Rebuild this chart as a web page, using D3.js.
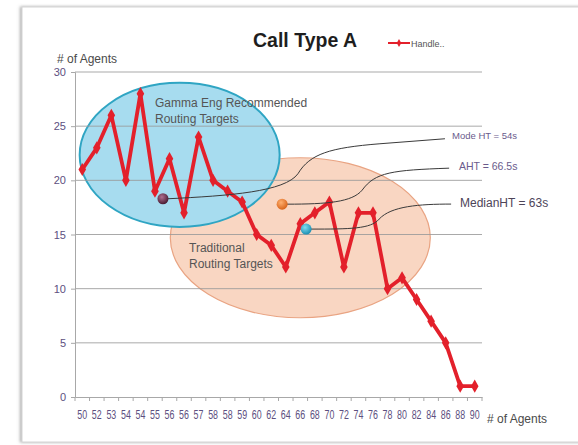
<!DOCTYPE html>
<html>
<head>
<meta charset="utf-8">
<script src="https://cdn.jsdelivr.net/npm/d3@7"></script>
<style>
  html, body { margin: 0; padding: 0; background: #fff; }
  svg { display: block; }
</style>
</head>
<body>
<div id="chart"></div>
<script>
// Call Type A — agents vs handle time, with annotated routing target zones
const categories = ['50', '52', '53', '54', '54', '55', '56', '56', '57', '58', '58', '59', '60', '62',
  '64', '66', '68', '70', '72', '74', '76', '78', '80', '82', '84', '86', '88', '90'];
const handleValues = [21, 23, 26, 20, 28, 19, 22, 17, 24, 20, 19, 18, 15, 14,
  12, 16, 17, 18, 12, 17, 17, 10, 11, 9, 7, 5, 1, 1];
const yTicks = [0, 5, 10, 15, 20, 25, 30];

// stat markers: position in category index / y value
const statNames = ['Mode HT = 54s', 'AHT = 66.5s', 'MedianHT = 63s'];
const statIndex = [5.55, 13.75, 15.4];
const statValue = [18.3, 17.8, 15.5];

const W = 578, H = 445;
const plot = { left: 75, right: 482, top: 72, bottom: 397 };
const sans = '"Liberation Sans", Arial, sans-serif';

const svg = d3.select('#chart').append('svg')
  .attr('width', W).attr('height', H);

const defs = svg.append('defs');
defs.append('filter').attr('id', 'shadow')
  .attr('x', '-5%').attr('y', '-5%').attr('width', '110%').attr('height', '110%')
  .append('feDropShadow')
  .attr('dx', -1.5).attr('dy', 0).attr('stdDeviation', 1.5)
  .attr('flood-color', '#777').attr('flood-opacity', 0.6);

defs.append('marker').attr('id', 'chev')
  .attr('viewBox', '0 0 10 10').attr('refX', 1).attr('refY', 5)
  .attr('markerWidth', 6).attr('markerHeight', 6).attr('orient', 'auto-start-reverse')
  .append('path').attr('d', 'M9,1 L1,5 L9,9')
  .attr('fill', 'none').attr('stroke', '#333').attr('stroke-width', 1.4);

const ballColors = [['#b07090', '#4a1c33'], ['#ffb070', '#d8641a'], ['#7fdcf0', '#1b8fb3']];
ballColors.forEach((c, i) => {
  const g = defs.append('radialGradient').attr('id', 'ball' + i)
    .attr('cx', '40%').attr('cy', '35%').attr('r', '65%');
  g.append('stop').attr('offset', '0%').attr('stop-color', c[0]);
  g.append('stop').attr('offset', '100%').attr('stop-color', c[1]);
});

// card frame
svg.append('rect')
  .attr('x', 22).attr('y', 7).attr('width', 620).attr('height', 435)
  .attr('fill', '#fff').attr('stroke', '#d4d4d4').attr('stroke-width', 1)
  .attr('filter', 'url(#shadow)');

const x = d3.scaleBand().domain(d3.range(categories.length)).range([plot.left, plot.right]);
const y = d3.scaleLinear().domain([0, 30]).range([plot.bottom, plot.top]);
const cx = i => x(0) + x.bandwidth() * (i + 0.5);

// zone ellipses
svg.append('ellipse')
  .attr('cx', cx(15.0)).attr('cy', y(14.7)).attr('rx', 130).attr('ry', 80)
  .attr('fill', '#f9d6c2').attr('stroke', '#e9a483').attr('stroke-width', 1.2);
svg.append('ellipse')
  .attr('cx', cx(6.7)).attr('cy', y(22.35)).attr('rx', 100).attr('ry', 72)
  .attr('fill', '#a7dcef').attr('stroke', '#2fa5c3').attr('stroke-width', 2);

// gridlines (visible through the zones)
svg.append('g')
  .selectAll('line')
  .data(yTicks.slice(1))
  .join('line')
  .attr('x1', plot.left).attr('x2', plot.right)
  .attr('y1', d => y(d)).attr('y2', d => y(d))
  .attr('stroke', '#9a9a9a').attr('stroke-opacity', 0.85).attr('stroke-width', 1);

// y axis
const yAxis = svg.append('g')
  .attr('transform', `translate(${plot.left},0)`)
  .call(d3.axisLeft(y).tickValues(yTicks).tickSize(4).tickPadding(5));
yAxis.select('.domain').attr('stroke', '#a8a8a8');
yAxis.selectAll('.tick line').attr('stroke', '#a8a8a8');
yAxis.selectAll('text').attr('font-family', sans).attr('font-size', 11).attr('fill', '#5d4f80');

// x axis: ticks between categories, labels centred and condensed
const xAxis = svg.append('g')
  .attr('transform', `translate(0,${plot.bottom})`)
  .call(d3.axisBottom(x).tickFormat(i => categories[i]).tickSize(0).tickPadding(13));
xAxis.select('.domain').attr('stroke', '#a8a8a8');
xAxis.selectAll('text')
  .attr('font-family', sans).attr('font-size', 12).attr('fill', '#5d4f80')
  .attr('transform', 'scale(0.74,1)');
xAxis.append('g')
  .selectAll('line')
  .data(d3.range(categories.length + 1))
  .join('line')
  .attr('x1', i => x(0) + i * x.step()).attr('x2', i => x(0) + i * x.step())
  .attr('y1', 0).attr('y2', 4)
  .attr('stroke', '#a8a8a8');

// axis titles
svg.append('text').attr('x', 57).attr('y', 63)
  .attr('font-family', sans).attr('font-size', 12).attr('fill', '#4a4a4a')
  .text('# of Agents');
svg.append('text').attr('x', 487).attr('y', 423)
  .attr('font-family', sans).attr('font-size', 12).attr('fill', '#4a4a4a')
  .text('# of Agents');

// title and legend
svg.append('text').attr('x', 253).attr('y', 47)
  .attr('font-family', sans).attr('font-size', 19.5).attr('font-weight', 'bold').attr('fill', '#1e1e1e')
  .text('Call Type A');
const legend = svg.append('g').attr('transform', 'translate(388,43)');
legend.append('line').attr('x1', 0).attr('x2', 22).attr('stroke', '#e3202b').attr('stroke-width', 2);
legend.append('path').attr('d', d3.symbol(d3.symbolDiamond, 18)()).attr('transform', 'translate(11,0)')
  .attr('fill', '#e3202b');
legend.append('text').attr('x', 23).attr('y', 3.5)
  .attr('font-family', sans).attr('font-size', 9).attr('fill', '#555')
  .text('Handle..');

// zone labels
const zoneText = [
  { x: 155, y: 107, lines: ['Gamma Eng Recommended', 'Routing Targets'] },
  { x: 189, y: 252, lines: ['Traditional', 'Routing Targets'] }
];
zoneText.forEach(z => {
  svg.append('text').attr('x', z.x).attr('y', z.y)
    .attr('font-family', sans).attr('font-size', 12).attr('fill', '#555')
    .selectAll('tspan').data(z.lines).join('tspan')
    .attr('x', z.x).attr('dy', (d, i) => i ? 16 : 0).text(d => d);
});

// series line
const line = d3.line().x((d, i) => cx(i)).y(d => y(d));
svg.append('path').datum(handleValues)
  .attr('d', line).attr('fill', 'none')
  .attr('stroke', '#e3202b').attr('stroke-width', 3.8).attr('stroke-linejoin', 'round');
svg.append('g').selectAll('path')
  .data(handleValues)
  .join('path')
  .attr('d', d3.symbol(d3.symbolDiamond, 50)())
  .attr('transform', (d, i) => `translate(${cx(i)},${y(d)})`)
  .attr('fill', '#e3202b');

// stat connectors and labels
const connectors = [
  'M0,0 C 62,-3 117,-7 130,-25 C 142,-45 162,-51 212,-55 L 277,-60',
  'M0,0 C 40,0 65,-2 75,-14 C 88,-32 105,-34 162,-36',
  'M0,0 C 38,0 60,0 68,-10 C 80,-23 108,-25 140,-25'
];
const labelPos = [[452, 139, 9.5, '#6a5b8c'], [459, 170, 10.5, '#6a5b8c'], [460, 207, 12, '#4d4458']];
statNames.forEach((name, k) => {
  const px = cx(statIndex[k]), py = y(statValue[k]);
  svg.append('path')
    .attr('d', connectors[k])
    .attr('transform', `translate(${px + 5},${py})`)
    .attr('fill', 'none').attr('stroke', '#3a3a3a').attr('stroke-width', 1)
    .attr('marker-start', 'url(#chev)');
  svg.append('circle').attr('cx', px).attr('cy', py).attr('r', 5.5)
    .attr('fill', `url(#ball${k})`);
  svg.append('text').attr('x', labelPos[k][0]).attr('y', labelPos[k][1])
    .attr('font-family', sans).attr('font-size', labelPos[k][2]).attr('fill', labelPos[k][3])
    .text(name);
});
</script>
</body>
</html>
